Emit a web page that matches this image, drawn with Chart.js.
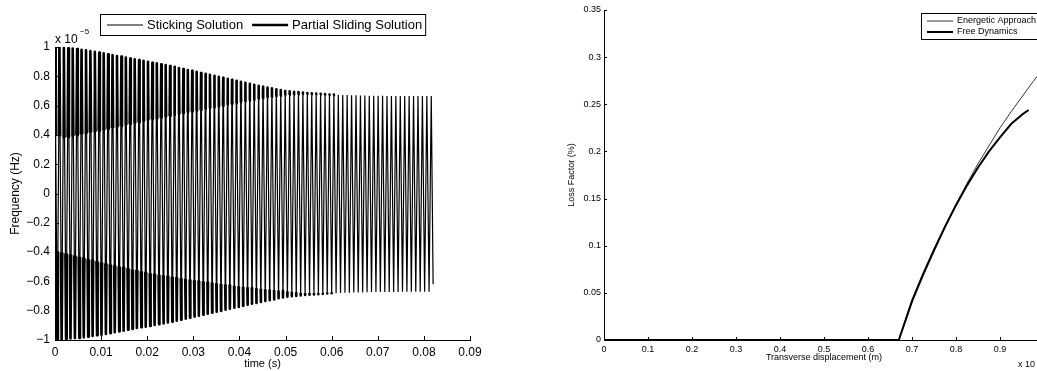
<!DOCTYPE html>
<html>
<head>
<meta charset="utf-8">
<script src="https://cdn.jsdelivr.net/npm/chart.js@4.4.1/dist/chart.umd.min.js"></script>
<style>
html, body { margin: 0; padding: 0; background: #fff; overflow: hidden; width: 1037px; height: 371px; }
#graficoTempo { position: absolute; left: 0; top: 0; }
#graficoPerda { position: absolute; left: 520px; top: 0; }
</style>
</head>
<body>
<canvas id="graficoTempo" width="520" height="371"></canvas>
<canvas id="graficoPerda" width="560" height="371"></canvas>
<script>
// =========================
// DADOS - sinal no tempo (x 10^-5)
// =========================

const periodo = 0.00096;          // s, entre dois picos positivos
const fimTempo = 0.082;
const fimValor = -0.62;

// picos positivos, um por ciclo
const picos = [
    1.000, 0.997, 0.994, 0.991, 0.989, 0.986, 0.981, 0.977, 0.972, 0.967,
    0.962, 0.957, 0.951, 0.945, 0.939, 0.934, 0.928, 0.922, 0.916, 0.911,
    0.905, 0.899, 0.893, 0.888, 0.882, 0.876, 0.870, 0.864, 0.857, 0.850,
    0.843, 0.837, 0.830, 0.823, 0.817, 0.810, 0.803, 0.796, 0.790, 0.783,
    0.776, 0.769, 0.763, 0.756, 0.749, 0.742, 0.736, 0.729, 0.723, 0.718,
    0.712, 0.706, 0.700, 0.697, 0.694, 0.692, 0.689, 0.686, 0.684, 0.682,
    0.680, 0.678, 0.676, 0.675, 0.674, 0.673, 0.672, 0.671, 0.670, 0.669,
    0.669, 0.668, 0.667, 0.667, 0.667, 0.666, 0.666, 0.666, 0.666, 0.665,
    0.665, 0.665, 0.665, 0.665, 0.665, 0.665
];

// vales (módulo), entre picos
const vales = [
    0.998, 0.996, 0.992, 0.990, 0.987, 0.986, 0.982, 0.977, 0.972, 0.967,
    0.964, 0.959, 0.953, 0.947, 0.941, 0.936, 0.930, 0.924, 0.918, 0.913,
    0.910, 0.904, 0.898, 0.893, 0.887, 0.881, 0.875, 0.868, 0.861, 0.854,
    0.848, 0.841, 0.834, 0.828, 0.821, 0.814, 0.807, 0.801, 0.794, 0.787,
    0.780, 0.774, 0.767, 0.760, 0.753, 0.747, 0.740, 0.734, 0.728, 0.723,
    0.715, 0.709, 0.704, 0.701, 0.699, 0.696, 0.693, 0.691, 0.689, 0.687,
    0.685, 0.683, 0.681, 0.680, 0.679, 0.678, 0.677, 0.676, 0.675, 0.675,
    0.674, 0.673, 0.673, 0.673, 0.672, 0.672, 0.672, 0.672, 0.671, 0.671,
    0.671, 0.671, 0.671, 0.671, 0.671
];

// início do deslizamento (trecho grosso) perto de cada pico
const limiarPicos = [
    0.400, 0.390, 0.380, 0.386, 0.392, 0.398, 0.404, 0.410, 0.416, 0.422,
    0.428, 0.434, 0.440, 0.447, 0.453, 0.460, 0.467, 0.474, 0.480, 0.487,
    0.494, 0.500, 0.506, 0.511, 0.517, 0.523, 0.529, 0.535, 0.541, 0.547,
    0.553, 0.559, 0.564, 0.570, 0.576, 0.582, 0.587, 0.593, 0.599, 0.605,
    0.611, 0.616, 0.622, 0.628, 0.633, 0.639, 0.645, 0.651, 0.655, 0.659,
    0.662, 0.666, 0.670, 0.672, 0.674, 0.676, 0.677, 0.678, 0.677, 0.676,
    0.675, 0.673, 0.671, 0.670
];

// início do deslizamento perto de cada vale (módulo)
const limiarVales = [
    0.394, 0.402, 0.409, 0.417, 0.425, 0.432, 0.440, 0.448, 0.456, 0.463,
    0.471, 0.477, 0.484, 0.491, 0.498, 0.504, 0.511, 0.518, 0.524, 0.531,
    0.538, 0.544, 0.549, 0.554, 0.558, 0.563, 0.568, 0.573, 0.578, 0.582,
    0.587, 0.592, 0.597, 0.601, 0.605, 0.609, 0.613, 0.617, 0.621, 0.625,
    0.629, 0.633, 0.637, 0.640, 0.644, 0.647, 0.650, 0.653, 0.656, 0.659,
    0.662, 0.665, 0.668, 0.671, 0.674, 0.677, 0.679, 0.680, 0.680, 0.679,
    0.678, 0.676, 0.674
];

const ticksTempo = [0, 0.09, 0.01];
const ticksFreq = [-1, 1, 0.2];

// =========================
// DADOS - fator de perda
// =========================

const deslEnergetico = [0, 0.1, 0.2, 0.3, 0.4, 0.5, 0.6, 0.67, 0.70, 0.725, 0.75, 0.775, 0.80, 0.825, 0.85, 0.875, 0.90, 0.925, 0.95, 0.975, 1.0];
const perdaEnergetico = [0, 0, 0, 0, 0, 0, 0, 0, 0.043, 0.071, 0.097, 0.121, 0.144, 0.166, 0.187, 0.206, 0.225, 0.242, 0.258, 0.274, 0.289];

const deslLivre = [0, 0.1, 0.2, 0.3, 0.4, 0.5, 0.6, 0.67, 0.70, 0.725, 0.75, 0.775, 0.80, 0.825, 0.85, 0.875, 0.90, 0.925, 0.95, 0.965];
const perdaLivre = [0, 0, 0, 0, 0, 0, 0, 0, 0.041, 0.069, 0.095, 0.120, 0.143, 0.164, 0.183, 0.200, 0.215, 0.229, 0.239, 0.244];

const ticksDesl = [0, 1.0, 0.1];
const ticksPerda = [0, 0.35, 0.05];

// =========================
// MONTAGEM DAS SÉRIES
// =========================

function montarSinal() {
    const pts = [];
    picos.forEach((a, i) => {
        pts.push({ x: i * periodo, y: a });
        if (i < vales.length) pts.push({ x: (i + 0.5) * periodo, y: -vales[i] });
    });
    pts.push({ x: fimTempo, y: fimValor });
    return pts;
}

function montarDeslizamento() {
    const pts = [];
    const meio = periodo / 2;
    const n = Math.max(limiarPicos.length, limiarVales.length);
    for (let i = 0; i < n; i++) {
        if (i < limiarPicos.length) {
            const a = picos[i], h = limiarPicos[i], tp = i * periodo;
            if (i > 0) pts.push({ x: tp - meio * (a - h) / (a + vales[i - 1]), y: h });
            pts.push({ x: tp, y: a });
            const tr = tp + meio * (a - h) / (a + vales[i]);
            pts.push({ x: tr, y: h });
            pts.push({ x: tr, y: null });
        }
        if (i < limiarVales.length) {
            const b = vales[i], h = limiarVales[i], tv = (i + 0.5) * periodo;
            pts.push({ x: tv - meio * (b - h) / (b + picos[i]), y: -h });
            pts.push({ x: tv, y: -b });
            const tr = tv + meio * (b - h) / (b + picos[i + 1]);
            pts.push({ x: tr, y: -h });
            pts.push({ x: tr, y: null });
        }
    }
    return pts;
}

function pares(xs, ys) {
    return xs.map((x, i) => ({ x, y: ys[i] }));
}

function rotulo(v) {
    const r = Math.round(v * 1000) / 1000;
    return (r === 0 ? '0' : String(r)).replace('-', '\u2212');
}

// =========================
// PLUGINS
// =========================

const FONTE = "'Liberation Sans', Arial, Helvetica, sans-serif";
Chart.defaults.font.family = FONTE;
Chart.defaults.color = '#000';

const marcasInternas = {
    id: 'marcasInternas',
    afterDraw(chart, args, o) {
        const { ctx, chartArea, scales } = chart;
        ctx.save();
        ctx.strokeStyle = '#000';
        ctx.lineWidth = 1;
        ctx.beginPath();
        scales.x.ticks.forEach(t => {
            const px = Math.round(scales.x.getPixelForValue(t.value)) + 0.5;
            ctx.moveTo(px, chartArea.bottom);
            ctx.lineTo(px, chartArea.bottom - o.tam);
        });
        scales.y.ticks.forEach(t => {
            const py = Math.round(scales.y.getPixelForValue(t.value)) + 0.5;
            ctx.moveTo(chartArea.left, py);
            ctx.lineTo(chartArea.left + o.tam, py);
        });
        ctx.stroke();
        ctx.restore();
    }
};

const legendaCaixa = {
    id: 'legendaCaixa',
    afterDraw(chart, args, o) {
        const ctx = chart.ctx;
        const ds = chart.data.datasets;
        ctx.save();
        ctx.font = o.fonte + 'px ' + FONTE;
        ctx.textBaseline = 'middle';
        ctx.fillStyle = '#000';
        const larg = ds.map(d => ctx.measureText(d.label).width);
        let w, h;
        if (o.horizontal) {
            w = o.pad + larg.reduce((s, l) => s + o.linha + o.gap + l, 0) + o.sep * (ds.length - 1) + o.padDir;
            h = o.alt;
        } else {
            w = o.pad + o.linha + o.gap + Math.max(...larg) + o.padDir;
            h = o.alt;
        }
        ctx.fillStyle = '#fff';
        ctx.fillRect(o.x, o.y, w, h);
        ctx.strokeStyle = '#000';
        ctx.lineWidth = 1;
        ctx.strokeRect(o.x + 0.5, o.y + 0.5, w, h);
        ctx.fillStyle = '#000';
        let cx = o.x + o.pad;
        ds.forEach((d, i) => {
            const cy = o.horizontal ? o.y + h / 2 + 0.5 : o.y + o.linhaY[i];
            const lx = o.horizontal ? cx : o.x + o.pad;
            ctx.beginPath();
            ctx.lineWidth = d.borderWidth;
            ctx.strokeStyle = d.borderColor;
            ctx.moveTo(lx, cy);
            ctx.lineTo(lx + o.linha, cy);
            ctx.stroke();
            ctx.fillText(d.label, lx + o.linha + o.gap, cy);
            cx = lx + o.linha + o.gap + larg[i] + o.sep;
        });
        ctx.restore();
    }
};

const textoExtra = {
    id: 'textoExtra',
    afterDraw(chart, args, o) {
        const ctx = chart.ctx;
        ctx.save();
        ctx.fillStyle = '#000';
        ctx.textBaseline = 'alphabetic';
        o.itens.forEach(t => {
            ctx.font = t.tam + 'px ' + FONTE;
            ctx.fillText(t.txt, t.x, t.y);
        });
        ctx.restore();
    }
};

// =========================
// GRÁFICO 1 - tempo
// =========================

const chartTempo = new Chart(
    document.getElementById('graficoTempo'),
    {
        type: 'line',
        data: {
            datasets: [{
                label: 'Sticking Solution',
                data: montarSinal(),
                borderColor: '#000',
                borderWidth: 1.2
            }, {
                label: 'Partial Sliding Solution',
                data: montarDeslizamento(),
                borderColor: '#000',
                borderWidth: 2.6,
                borderJoinStyle: 'round'
            }]
        },
        plugins: [marcasInternas, legendaCaixa, textoExtra],
        options: {
            responsive: false,
            animation: false,
            devicePixelRatio: 1,
            layout: { padding: { left: 0, right: 50, top: 47, bottom: 0 } },
            elements: {
                point: { radius: 0 },
                line: { tension: 0, borderJoinStyle: 'bevel', spanGaps: false }
            },
            plugins: {
                legend: { display: false },
                tooltip: { enabled: false },
                marcasInternas: { tam: 4 },
                legendaCaixa: { x: 100, y: 14, alt: 21, horizontal: true, fonte: 13, pad: 7, padDir: 3, linha: 36, gap: 4, sep: 9 },
                textoExtra: { itens: [
                    { txt: 'x 10', x: 55, y: 43, tam: 12 },
                    { txt: '\u22125', x: 80, y: 34, tam: 8 }
                ] }
            },
            scales: {
                x: {
                    type: 'linear',
                    min: ticksTempo[0],
                    max: ticksTempo[1],
                    afterFit: s => { s.height = 31; },
                    grid: { display: false, drawTicks: false },
                    border: { display: true, color: '#000', width: 1 },
                    ticks: { stepSize: ticksTempo[2], padding: 5, maxRotation: 0, autoSkip: false, font: { size: 12 }, callback: rotulo },
                    title: { display: true, text: 'time (s)', font: { size: 11 }, padding: { top: 0, bottom: 0 } }
                },
                y: {
                    type: 'linear',
                    min: ticksFreq[0],
                    max: ticksFreq[1],
                    afterFit: s => { s.width = 55; },
                    grid: { display: false, drawTicks: false },
                    border: { display: true, color: '#000', width: 1 },
                    ticks: { stepSize: ticksFreq[2], padding: 5, autoSkip: false, font: { size: 12 }, callback: rotulo },
                    title: { display: true, text: 'Frequency (Hz)', font: { size: 12 }, padding: { top: 8, bottom: 0 } }
                }
            }
        }
    }
);

// =========================
// GRÁFICO 2 - fator de perda
// =========================

const chartPerda = new Chart(
    document.getElementById('graficoPerda'),
    {
        type: 'line',
        data: {
            datasets: [{
                label: 'Energetic Approach',
                data: pares(deslEnergetico, perdaEnergetico),
                borderColor: '#000',
                borderWidth: 0.8
            }, {
                label: 'Free Dynamics',
                data: pares(deslLivre, perdaLivre),
                borderColor: '#000',
                borderWidth: 2
            }]
        },
        plugins: [marcasInternas, legendaCaixa, textoExtra],
        options: {
            responsive: false,
            animation: false,
            devicePixelRatio: 1,
            layout: { padding: { left: 42, right: 36, top: 10, bottom: 0 } },
            elements: {
                point: { radius: 0 },
                line: { tension: 0, borderJoinStyle: 'round' }
            },
            plugins: {
                legend: { display: false },
                tooltip: { enabled: false },
                marcasInternas: { tam: 3 },
                legendaCaixa: { x: 401, y: 13, alt: 26, horizontal: false, fonte: 9, pad: 6, padDir: 4, linha: 26, gap: 4, sep: 0, linhaY: [8, 19] },
                textoExtra: { itens: [
                    { txt: 'x 10', x: 498, y: 367, tam: 9 }
                ] }
            },
            scales: {
                x: {
                    type: 'linear',
                    min: ticksDesl[0],
                    max: ticksDesl[1],
                    afterFit: s => { s.height = 31; },
                    grid: { display: false, drawTicks: false },
                    border: { display: true, color: '#000', width: 1 },
                    ticks: { stepSize: ticksDesl[2], padding: 4, maxRotation: 0, autoSkip: false, font: { size: 9 }, callback: rotulo },
                    title: { display: true, text: 'Transverse displacement (m)', font: { size: 9 }, padding: { top: 0, bottom: 8 } }
                },
                y: {
                    type: 'linear',
                    min: ticksPerda[0],
                    max: ticksPerda[1],
                    afterFit: s => { s.width = 42; },
                    grid: { display: false, drawTicks: false },
                    border: { display: true, color: '#000', width: 1 },
                    ticks: { stepSize: ticksPerda[2], padding: 3, autoSkip: false, font: { size: 9 }, callback: rotulo },
                    title: { display: true, text: 'Loss Factor (%)', font: { size: 9 }, padding: { top: 4, bottom: 0 } }
                }
            }
        }
    }
);
</script>
</body>
</html>
